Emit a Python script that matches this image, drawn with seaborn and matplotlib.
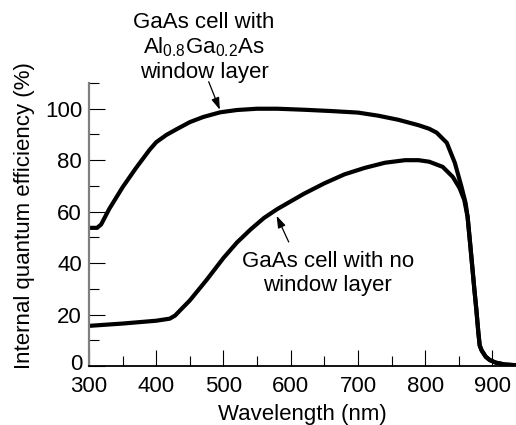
import matplotlib
matplotlib.use('Agg')
import matplotlib.pyplot as plt
import matplotlib.transforms as mtransforms
import seaborn as sns
import pandas as pd
from matplotlib.ticker import MultipleLocator

# GaAs cell with Al0.8Ga0.2As window layer
wl_window = [300, 312, 318, 330, 350, 370, 390, 400, 415, 430, 450, 470, 495, 520,
             550, 580, 620, 660, 700, 730, 760, 790, 806, 817, 832, 844, 854, 860,
             863, 867, 870, 873, 876, 879, 881, 884, 890, 896, 905, 918, 935]
qe_window = [53.7, 53.7, 55, 61, 69.5, 77, 84, 87, 89.8, 92, 94.8, 96.8, 98.6, 99.5,
             100, 100, 99.6, 99.1, 98.5, 97.3, 95.7, 93.6, 92.2, 90.7, 86.8, 79, 69.6, 63.4,
             58, 47, 38.5, 30, 22, 13, 8, 6, 3.6, 2.3, 1.3, 0.6, 0.3]

# GaAs cell with no window layer
wl_nowin = [300, 350, 400, 420, 428, 435, 450, 475, 500, 520, 540, 560, 580, 600,
            620, 650, 680, 710, 740, 770, 790, 806, 826, 841, 851, 858, 863,
            867, 870, 873, 876, 879, 881, 884, 890, 896, 905, 918, 935]
qe_nowin = [15.6, 16.5, 17.6, 18.4, 19.6, 21.5, 25.5, 33.5, 42, 48, 53, 57.5, 61, 64,
            67, 71, 74.5, 77, 79, 80, 80, 79.4, 77.4, 73.5, 69.2, 64.6, 58,
            47, 38.5, 30, 22, 13, 8, 6, 3.6, 2.3, 1.3, 0.6, 0.3]

x_ticks = [300, 400, 500, 600, 700, 800, 900]
y_ticks = [0, 20, 40, 60, 80, 100]

label_top = "GaAs cell with\nAl$_{0.8}$Ga$_{0.2}$As\nwindow layer"
label_bottom = "GaAs cell with no\nwindow layer"

sns.set_theme(style='ticks')
plt.rcParams['font.family'] = ['Liberation Sans', 'DejaVu Sans']
plt.rcParams['mathtext.fontset'] = 'custom'
plt.rcParams['mathtext.rm'] = 'Liberation Sans'
plt.rcParams['mathtext.it'] = 'Liberation Sans:italic'
plt.rcParams['mathtext.default'] = 'regular'

FS = 16.0
fig = plt.figure(figsize=(5.16, 4.25), dpi=100)
ax = fig.add_axes([89 / 516, 1 - 366 / 425, 427 / 516, 283 / 425])

df_w = pd.DataFrame({'wl': wl_window, 'qe': qe_window})
df_n = pd.DataFrame({'wl': wl_nowin, 'qe': qe_nowin})
for d in (df_w, df_n):
    sns.lineplot(data=d, x='wl', y='qe', sort=False, estimator=None, color='black',
                 lw=3.0, ax=ax, solid_joinstyle='round', solid_capstyle='round')

ax.set_xlim(300, 935)
ax.set_ylim(0, 110)
ax.set_xticks(x_ticks)
ax.set_yticks(y_ticks)
ax.xaxis.set_minor_locator(MultipleLocator(50))
ax.yaxis.set_minor_locator(MultipleLocator(10))
ax.tick_params(which='major', direction='in', length=11.5, width=0.8, labelsize=FS,
               color='black', labelcolor='black')
ax.tick_params(axis='x', which='major', pad=7)
ax.tick_params(axis='y', which='major', pad=5)
ax.tick_params(which='minor', direction='in', length=7.5, width=0.8, color='black')
sns.despine(ax=ax)
ax.spines['left'].set_color('#808080')
ax.spines['left'].set_linewidth(1.6)
ax.spines['bottom'].set_color('black')
ax.spines['bottom'].set_linewidth(1.3)

# nudge the "0" label slightly upward, as in the reference
t0 = ax.yaxis.get_major_ticks()[0]
t0.label1.set_transform(t0.label1.get_transform() +
                        mtransforms.ScaledTranslation(0, 4 / 100, fig.dpi_scale_trans))

ax.set_xlabel('Wavelength (nm)', fontsize=FS, color='black')
ax.xaxis.set_label_coords(0.5, -0.136)
ax.set_ylabel('Internal quantum efficiency (%)', fontsize=FS, color='black')
ax.yaxis.label.set_va('center')
ax.yaxis.set_label_coords(-0.151, 0.53)

ax.text(471, 137.6, label_top, ha='center', va='top', fontsize=FS,
        linespacing=1.15, color='black', clip_on=False)
ax.annotate('', xy=(494.6, 99.6), xytext=(478, 110.5), annotation_clip=False,
            arrowprops=dict(arrowstyle='-|>,head_length=0.6,head_width=0.2',
                            lw=0.9, color='black', shrinkA=0, shrinkB=0))

ax.text(655, 44.8, label_bottom, ha='center', va='top', fontsize=FS,
        linespacing=1.2, color='black')
ax.annotate('', xy=(579, 58.4), xytext=(597, 48.2),
            arrowprops=dict(arrowstyle='-|>,head_length=0.6,head_width=0.2',
                            lw=0.9, color='black', shrinkA=0, shrinkB=0))

fig.savefig('out.png', dpi=100)
